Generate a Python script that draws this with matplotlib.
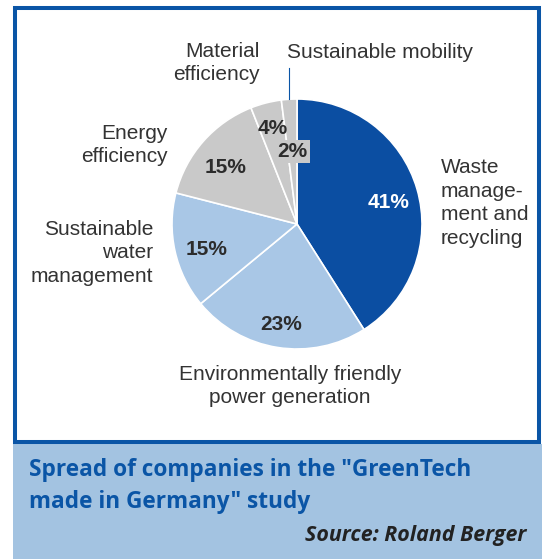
import matplotlib.pyplot as plt
import numpy as np
from matplotlib.patches import Rectangle

# Shares of companies per market segment (percent)
segments = ['Waste\nmanage-\nment and\nrecycling',
            'Environmentally friendly\npower generation',
            'Sustainable\nwater\nmanagement',
            'Energy\nefficiency',
            'Material\nefficiency',
            'Sustainable mobility']
shares = [41, 23, 15, 15, 4, 2]
colors = ['#0b4ea2', '#a9c7e6', '#a9c7e6', '#c9c9c9', '#c9c9c9', '#c9c9c9']
title = 'Spread of companies in the "GreenTech\nmade in Germany" study'
source = 'Source: Roland Berger'

W, H = 542, 559
fig = plt.figure(figsize=(W / 100, H / 100), dpi=100)
ax = fig.add_axes([0, 0, 1, 1])

blue = '#0a55a6'
txt = '#2c2c2c'

# frame and caption box
ax.add_patch(Rectangle((13, 444), W - 13, H - 444, facecolor='#a3c3e1', edgecolor='none'))
ax.add_patch(Rectangle((15, 8), 524, 434, facecolor='white', edgecolor=blue, linewidth=2.9))

cx, cy, R = 297, 224, 125
# y axis points down, so counterclock=True runs clockwise on screen
wedges, _ = ax.pie(shares, colors=colors, center=(cx, cy), radius=R,
                   startangle=-90, counterclock=True, frame=True,
                   wedgeprops=dict(edgecolor='white', linewidth=1.2))
ax.set_xlim(0, W)
ax.set_ylim(H, 0)
ax.axis('off')

# percent labels inside slices (distance from centre, angle nudge in degrees)
dist = [0.75, 0.81, 0.75, 0.73, 0.79, 0.58]
nudge = [3, 0, -3, -3, 0, 0]
for w, s, d, n, c in zip(wedges, shares, dist, nudge, colors):
    a = np.deg2rad((w.theta1 + w.theta2) / 2 + n)
    x, y = cx + d * R * np.cos(a), cy + d * R * np.sin(a)
    kw = dict(ha='center', va='center', fontsize=15, fontweight='bold',
              family='Liberation Sans', color='white' if c == colors[0] else txt)
    if s == 2:
        kw['bbox'] = dict(boxstyle='square,pad=0.1', facecolor=c, edgecolor='none')
    ax.text(x, y, f'{s}%', **kw)

# connector for the smallest slice
a = np.deg2rad((wedges[-1].theta1 + wedges[-1].theta2) / 2)
lx = cx + R * np.cos(a)
ax.plot([lx, lx], [68, cy + R * np.sin(a)], color=blue, lw=0.8)

lab = dict(fontsize=15, family='Liberation Sans', color='#333333', linespacing=1.32)
ax.text(441, 203, segments[0], ha='left', va='center', **lab)
ax.text(290, 386, segments[1], ha='center', va='center', **lab)
ax.text(153, 253, segments[2], ha='right', va='center', **lab)
ax.text(168, 145, segments[3], ha='right', va='center', **lab)
ax.text(260, 63, segments[4], ha='right', va='center', **lab)
ax.text(287, 53, segments[5], ha='left', va='center', **lab)

ax.text(29, 486, title, ha='left', va='center', fontsize=16.3, fontweight='bold',
        family='Open Sans', color=blue, linespacing=1.42)
ax.text(526, 535, source, ha='right', va='center', fontsize=15.4, fontweight='bold',
        style='italic', family='Open Sans', color='#222222')

fig.savefig('out.png', dpi=100)
